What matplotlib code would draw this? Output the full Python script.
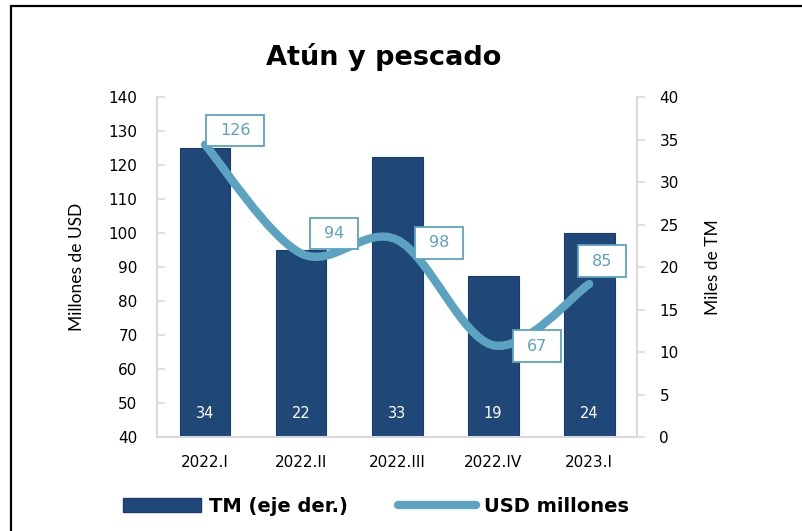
import numpy as np
import matplotlib
matplotlib.use('Agg')
import matplotlib.pyplot as plt
from matplotlib.path import Path
from matplotlib.patches import PathPatch, Rectangle
from matplotlib.lines import Line2D

# --- data ---
periods = ["2022.I", "2022.II", "2022.III", "2022.IV", "2023.I"]
tm_miles = [34, 22, 33, 19, 24]          # bars, right axis (miles de TM)
usd_mill = [126, 94, 98, 67, 85]         # line, left axis (millones de USD)
left_ticks = [40, 50, 60, 70, 80, 90, 100, 110, 120, 130, 140]
right_ticks = [0, 5, 10, 15, 20, 25, 30, 35, 40]

# label box offsets in pixels (dx, dy) from each line point
box_off = [(30, 14), (33, 20), (42, -3), (44, -1), (13, 23)]

BAR_C = "#1F4778"
LINE_C = "#5BA3C1"
GRID_C = "#D9D9D9"
WIDE = ["DejaVu Sans"]
NARROW = ["Lato", "DejaVu Sans"]

plt.rcParams['font.family'] = WIDE


def label_box(x0, y0, width, height, mutation_size):
    # box with more room left/right than top/bottom, like the excel labels
    px = 0.85 * mutation_size
    py = 0.52 * mutation_size
    x0, y0 = x0 - px, y0 - py
    x1, y1 = x0 + width + 2 * px, y0 + height + 2 * py
    return Path([(x0, y0), (x1, y0), (x1, y1), (x0, y1), (x0, y0)], closed=True)


fig = plt.figure(figsize=(8.03, 5.31), dpi=100)
ax = fig.add_axes([0.1955, 0.177, 0.598, 0.6403])
ax2 = ax.twinx()

x = np.arange(len(periods))

# bars on the base axis, scaled on the right
ax.bar(x, tm_miles, width=0.53, color=BAR_C, edgecolor="#1A3C6E", linewidth=0.8, zorder=2)
ax.set_ylim(0, 40)
ax.set_xlim(-0.5, len(periods) - 0.5)
ax.set_yticks(right_ticks)
for xi, v in zip(x, tm_miles):
    ax.annotate(str(v), (xi, 0), xytext=(0, 24), textcoords="offset pixels",
                ha="center", va="center", color="white", fontsize=10.5)

# line on the twin axis, scaled on the left
ax2.set_ylim(40, 140)
ax2.set_yticks(left_ticks)

# swap sides: bars use the right scale, line the left one
ax.yaxis.tick_right()
ax.yaxis.set_label_position("right")
ax2.yaxis.tick_left()
ax2.yaxis.set_label_position("left")
ax.set_ylabel("Miles de TM", fontsize=12.5, labelpad=19, family=NARROW)
ax2.set_ylabel("Millones de USD", fontsize=12.5, labelpad=17, family=NARROW)

# smoothed line (catmull-rom as bezier segments, like Excel smoothing)
pts = np.column_stack([x, usd_mill]).astype(float)
verts = [tuple(pts[0])]
codes = [Path.MOVETO]
n = len(pts)
for i in range(n - 1):
    p0 = pts[max(i - 1, 0)]
    p1 = pts[i]
    p2 = pts[i + 1]
    p3 = pts[min(i + 2, n - 1)]
    c1 = p1 + (p2 - p0) / 6.0
    c2 = p2 - (p3 - p1) / 6.0
    verts += [tuple(c1), tuple(c2), tuple(p2)]
    codes += [Path.CURVE4] * 3
ax2.add_patch(PathPatch(Path(verts, codes), facecolor="none", edgecolor=LINE_C,
                        lw=6, capstyle="round", zorder=3))

for xi, v, (dx, dy) in zip(x, usd_mill, box_off):
    ax2.annotate(str(v), (xi, v), xytext=(dx, dy), textcoords="offset pixels",
                 ha="center", va="center", color=LINE_C, fontsize=11.5, zorder=5,
                 bbox=dict(boxstyle=label_box, fc="white", ec=LINE_C, lw=1.3))

for a in (ax, ax2):
    for s in a.spines.values():
        s.set_visible(False)

for side in ("left", "right", "bottom"):
    ax2.spines[side].set_visible(True)
    ax2.spines[side].set_color(GRID_C)
    ax2.spines[side].set_linewidth(1.5)

ax2.tick_params(axis="y", direction="in", length=6, color=GRID_C, width=1.2,
                pad=14, labelsize=11)
ax.tick_params(axis="y", direction="out", length=6, color=GRID_C, width=1.2,
               pad=10, labelsize=11)
ax.set_xticks(x)
ax.set_xticklabels(periods)
ax.tick_params(axis="x", length=0, pad=13, labelsize=11)
ax2.tick_params(axis="x", bottom=False, labelbottom=False)

fig.text(0.4776, 0.893, "Atún y pescado", ha="center", va="center",
         fontsize=19.5, fontweight="bold")

handles = [Rectangle((0, 0), 1, 1, fc=BAR_C, ec="#1A3C6E"),
           Line2D([], [], color=LINE_C, lw=6, solid_capstyle="round")]
fig.legend(handles, ["TM (eje der.)", "USD millones"], loc="center",
           bbox_to_anchor=(0.468, 0.046), ncol=2, frameon=False,
           prop={"weight": "bold", "size": 14},
           handlelength=4.0, handleheight=0.75, handletextpad=0.4, columnspacing=2.6)

# outer black frame
fig.patches.append(Rectangle((11 / 803, -0.1), 1.2, 1 - 6 / 531 + 0.1,
                             transform=fig.transFigure, fill=False,
                             ec="black", lw=1.6, zorder=10))

fig.savefig("out.png", dpi=100)
